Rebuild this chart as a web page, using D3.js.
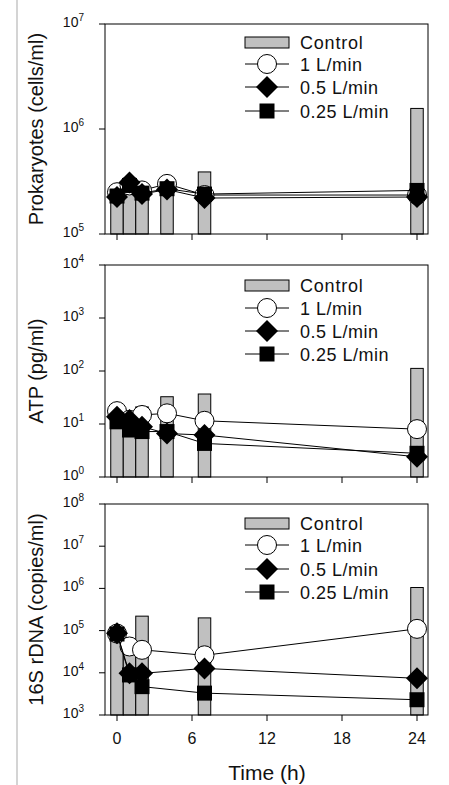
<!DOCTYPE html>
<html>
<head>
<meta charset="utf-8">
<script src="https://cdn.jsdelivr.net/npm/d3@7"></script>
<style>
  html, body { margin: 0; padding: 0; background: #fff; }
  svg { display: block; }
  text { font-family: "Liberation Sans", Arial, sans-serif; fill: #111; }
</style>
</head>
<body>
<svg id="chart" width="449" height="785"></svg>
<script>
// ---------------- DATA ----------------
const xTicks = [0, 6, 12, 18, 24];
const seriesNames = ["Control", "1 L/min", "0.5 L/min", "0.25 L/min"];

// Panel 1: Prokaryotes (cells/ml)
const prokTimes = [0, 1, 2, 4, 7, 24];
const prokControl = [2.5e5, 2.9e5, 2.7e5, 2.9e5, 3.9e5, 1.57e6];
const prok1L = [2.5e5, 2.9e5, 2.6e5, 3.0e5, 2.35e5, 2.35e5];
const prok05L = [2.25e5, 3.1e5, 2.4e5, 2.65e5, 2.2e5, 2.25e5];
const prok025L = [2.3e5, 2.9e5, 2.45e5, 2.7e5, 2.4e5, 2.6e5];

// Panel 2: ATP (pg/ml)
const atpTimes = [0, 1, 2, 4, 7, 24];
const atpControl = [14, 12, 21, 32.7, 36.8, 112];
const atp1L = [17.5, 12, 14.8, 15.9, 11.5, 8];
const atp05L = [13.7, 11.9, 8.9, 6.6, 6.2, 2.4];
const atp025L = [11, 7.7, 7.2, 7.2, 4.3, 2.8];

// Panel 3: 16S rDNA (copies/ml)
const rdnaTimes = [0, 1, 2, 7, 24];
const rdnaControl = [8.7e4, 6.0e4, 2.2e5, 2.0e5, 1.05e6];
const rdna1L = [8.5e4, 4.2e4, 3.5e4, 2.6e4, 1.1e5];
const rdna05L = [8.7e4, 9.7e3, 9.7e3, 1.27e4, 7.4e3];
const rdna025L = [8.3e4, 8.9e3, 4.7e3, 3.3e3, 2.3e3];

// ---------------- LAYOUT ----------------
const svg = d3.select("#chart");
const plotLeft = 105, plotRight = 428;
const x = d3.scaleLinear().domain([-1, 25]).range([104.5, 429.5]);

// Left light border line
svg.append("rect").attr("x", 16).attr("y", 0).attr("width", 2).attr("height", 785).attr("fill", "#d4d4d4");

const panels = [
  { top: 24, bottom: 234, domain: [1e5, 1e7], label: "Prokaryotes (cells/ml)",
    times: prokTimes, control: prokControl, s: [prok1L, prok05L, prok025L], legendY: [18, 40, 63, 87] },
  { top: 265, bottom: 477, domain: [1, 1e4], label: "ATP (pg/ml)",
    times: atpTimes, control: atpControl, s: [atp1L, atp05L, atp025L], legendY: [20, 43, 66, 89] },
  { top: 504, bottom: 715, domain: [1e3, 1e8], label: "16S rDNA (copies/ml)",
    times: rdnaTimes, control: rdnaControl, s: [rdna1L, rdna05L, rdna025L], legendY: [19, 41, 65, 88], showX: true }
];

function marker(g, type, cx, cy) {
  if (type === 0) {
    g.append("circle").attr("cx", cx).attr("cy", cy).attr("r", 9.5)
      .attr("fill", "#fff").attr("stroke", "#000").attr("stroke-width", 1);
  } else if (type === 1) {
    const r = 11;
    g.append("path").attr("d", `M${cx},${cy - r}L${cx + r},${cy}L${cx},${cy + r}L${cx - r},${cy}Z`)
      .attr("fill", "#000");
  } else {
    const s = 15;
    g.append("rect").attr("x", cx - s / 2).attr("y", cy - s / 2).attr("width", s).attr("height", s)
      .attr("fill", "#000");
  }
}

panels.forEach(p => {
  const g = svg.append("g");
  const y = d3.scaleLog().domain(p.domain).range([p.bottom, p.top]);
  const barW = x(1) - x(0);

  // control bars
  g.selectAll("rect.bar").data(p.times.map((t, i) => ({ t, v: p.control[i] })))
    .enter().append("rect").attr("class", "bar")
    .attr("x", d => x(d.t) - barW / 2)
    .attr("y", d => y(d.v))
    .attr("width", barW)
    .attr("height", d => p.bottom - y(d.v))
    .attr("fill", "#c0c0c0").attr("stroke", "#000").attr("stroke-width", 1);

  // series lines + markers
  const line = d3.line().x(d => x(d.t)).y(d => y(d.v));
  p.s.forEach((vals, si) => {
    const pts = p.times.map((t, i) => ({ t, v: vals[i] }));
    g.append("path").attr("d", line(pts)).attr("fill", "none").attr("stroke", "#000").attr("stroke-width", 1);
    pts.forEach(d => marker(g, si, x(d.t), y(d.v)));
  });

  // frame
  g.append("rect").attr("x", plotLeft).attr("y", p.top).attr("width", plotRight - plotLeft)
    .attr("height", p.bottom - p.top).attr("fill", "none").attr("stroke", "#000").attr("stroke-width", 1);

  // y ticks
  const decades = [];
  for (let e = Math.log10(p.domain[0]); e <= Math.log10(p.domain[1]); e++) decades.push(e);
  decades.forEach(e => {
    const yy = y(Math.pow(10, e));
    g.append("line").attr("x1", plotLeft - 6).attr("x2", plotLeft).attr("y1", yy).attr("y2", yy)
      .attr("stroke", "#000").attr("stroke-width", 1);
    const t = g.append("text").attr("x", 84).attr("y", yy + 3).attr("text-anchor", "end")
      .style("font-size", "14px");
    t.append("tspan").text("10");
    t.append("tspan").attr("dy", -6).style("font-size", "10px").text(e);
  });

  // x ticks
  xTicks.forEach(v => {
    g.append("line").attr("x1", x(v)).attr("x2", x(v)).attr("y1", p.bottom).attr("y2", p.bottom + 6)
      .attr("stroke", "#000").attr("stroke-width", 1);
    if (p.showX) {
      g.append("text").attr("x", x(v)).attr("y", p.bottom + 29).attr("text-anchor", "middle")
        .style("font-size", "16px").text(v);
    }
  });

  // y title
  const cy = (p.top + p.bottom) / 2;
  g.append("text").attr("transform", `translate(43,${cy}) rotate(-90)`)
    .attr("text-anchor", "middle").style("font-size", "20px").text(p.label);

  // legend
  const lx0 = 245, lx1 = 289, lc = 267, tx = 300;
  seriesNames.forEach((name, i) => {
    const ly = p.top + p.legendY[i];
    if (i === 0) {
      g.append("rect").attr("x", lx0).attr("y", ly - 5).attr("width", lx1 - lx0).attr("height", 11)
        .attr("fill", "#c0c0c0").attr("stroke", "#000").attr("stroke-width", 1);
    } else {
      g.append("line").attr("x1", lx0).attr("x2", lx1).attr("y1", ly).attr("y2", ly)
        .attr("stroke", "#000").attr("stroke-width", 1);
      marker(g, i - 1, lc, ly);
    }
    g.append("text").attr("x", tx).attr("y", ly + 6.5).style("font-size", "18px")
      .style("letter-spacing", i === 0 ? "0.8px" : "0.5px").text(name);
  });
});

svg.append("text").attr("x", 267).attr("y", 780).attr("text-anchor", "middle")
  .style("font-size", "21px").text("Time (h)");
</script>
</body>
</html>
